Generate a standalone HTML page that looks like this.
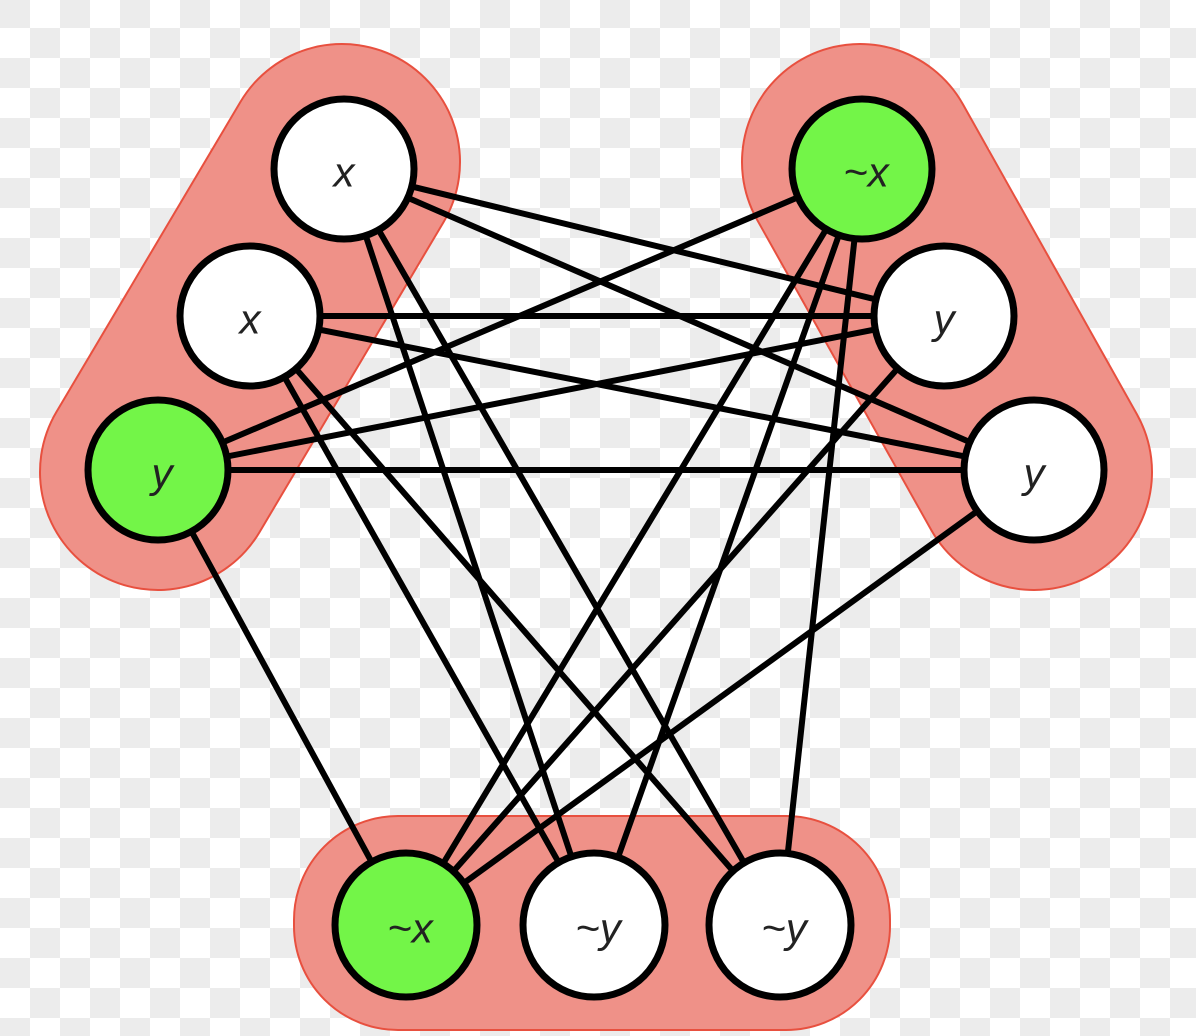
<!DOCTYPE html>
<html><head><meta charset="utf-8"><style>
html,body{margin:0;padding:0;width:1196px;height:1036px;overflow:hidden;background:#fff}
svg{display:block}
text{font-family:"Liberation Sans",sans-serif;font-style:italic;font-size:42px;fill:#222;text-anchor:middle;dominant-baseline:central}
</style></head><body>
<svg width="1196" height="1036" viewBox="0 0 1196 1036">
<defs>
<pattern id="chk" x="0" y="-2" width="60" height="60" patternUnits="userSpaceOnUse">
<rect width="60" height="60" fill="#fff"/>
<rect width="30" height="30" fill="#ececec"/>
<rect x="30" y="30" width="30" height="30" fill="#ececec"/>
</pattern>
</defs>
<rect width="1196" height="1036" fill="url(#chk)"/>
<g stroke-linecap="round" fill="none">
<line x1="342" y1="162" x2="158" y2="472" stroke="#e8503f" stroke-width="238"/>
<line x1="342" y1="162" x2="158" y2="472" stroke="#ef9188" stroke-width="234"/>
<line x1="860" y1="162" x2="1034" y2="472" stroke="#e8503f" stroke-width="238"/>
<line x1="860" y1="162" x2="1034" y2="472" stroke="#ef9188" stroke-width="234"/>
</g>
<rect x="294" y="816" width="596" height="214" rx="104" fill="#ef9188" stroke="#e8503f" stroke-width="2"/>
<g stroke="#000" stroke-width="6">
<line x1="344" y1="170" x2="944" y2="316"/>
<line x1="344" y1="170" x2="1034" y2="470"/>
<line x1="344" y1="170" x2="594" y2="925"/>
<line x1="344" y1="170" x2="780" y2="925"/>
<line x1="250" y1="316" x2="944" y2="316"/>
<line x1="250" y1="316" x2="1034" y2="470"/>
<line x1="250" y1="316" x2="594" y2="925"/>
<line x1="250" y1="316" x2="780" y2="925"/>
<line x1="158" y1="470" x2="862" y2="170"/>
<line x1="158" y1="470" x2="944" y2="316"/>
<line x1="158" y1="470" x2="1034" y2="470"/>
<line x1="158" y1="470" x2="406" y2="925"/>
<line x1="862" y1="170" x2="406" y2="925"/>
<line x1="862" y1="170" x2="594" y2="925"/>
<line x1="862" y1="170" x2="780" y2="925"/>
<line x1="944" y1="316" x2="406" y2="925"/>
<line x1="1034" y1="470" x2="406" y2="925"/>
</g>
<g stroke="#000" stroke-width="7">
<circle cx="344" cy="169" r="70" fill="#fff"/>
<circle cx="250" cy="316" r="70" fill="#fff"/>
<circle cx="158" cy="470" r="70" fill="#73f548"/>
<circle cx="862" cy="169" r="70" fill="#73f548"/>
<circle cx="944" cy="316" r="70" fill="#fff"/>
<circle cx="1034" cy="470" r="70" fill="#fff"/>
<ellipse cx="406" cy="925" rx="71" ry="72" fill="#73f548"/>
<ellipse cx="594" cy="925" rx="71" ry="72" fill="#fff"/>
<ellipse cx="780" cy="925" rx="71" ry="72" fill="#fff"/>
</g>
<text x="344" y="172">x</text>
<text x="250" y="319">x</text>
<text x="162" y="473">y</text>
<text x="866" y="172">~x</text>
<text x="944" y="319">y</text>
<text x="1034" y="473">y</text>
<text x="410" y="928">~x</text>
<text x="598" y="928">~y</text>
<text x="784" y="928">~y</text>
</svg>
</body></html>
